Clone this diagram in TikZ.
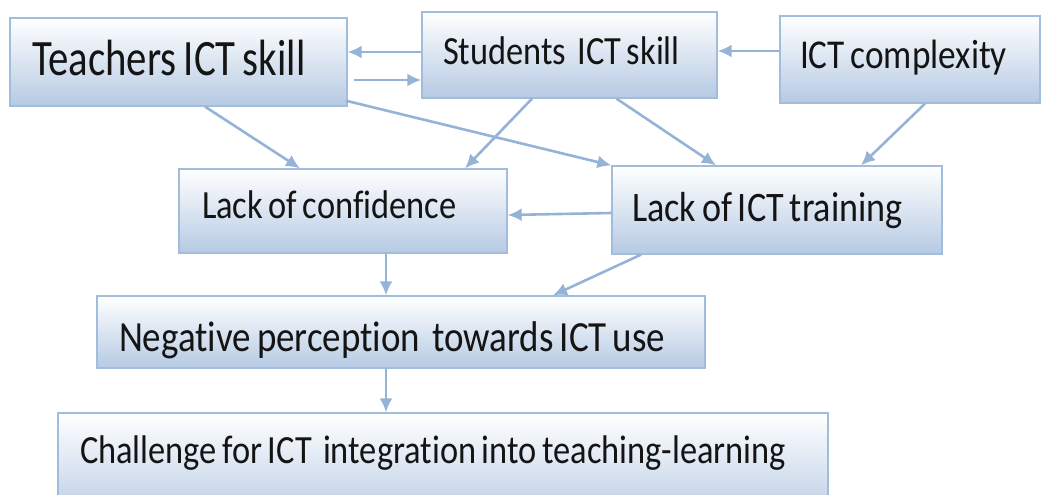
\documentclass[tikz,border=0pt]{standalone}
\usepackage{fontspec}
\setmainfont{Carlito}
\newfontfamily\boxfont[FakeStretch=0.86,Ligatures=NoCommon]{Carlito}
\newfontfamily\bigboxfont[FakeStretch=0.8,Ligatures=NoCommon]{Carlito}
\usetikzlibrary{arrows.meta}
\definecolor{boxline}{HTML}{A2BCDC}
\definecolor{boxfill}{HTML}{B6CAE3}
\definecolor{linkblue}{HTML}{95B3D7}
\definecolor{inkdark}{HTML}{141414}
\tikzset{
  factor/.style={rectangle, draw=boxline, line width=1.3pt, top color=white,
    bottom color=boxfill, inner ysep=0pt, text=inkdark},
  link/.style={draw=linkblue, line width=2.6pt,
    -{Latex[length=14pt,width=13pt]}}
}
% font size with narrow word spaces
\newcommand{\fs}[2][\boxfont]{#1\fontsize{#2}{#2}\selectfont
  \fontdimen2\font=0.14em\fontdimen3\font=0pt\fontdimen4\font=0pt}
\newcommand{\lbox}[2]{\makebox[#1][l]{#2}}

\begin{document}
\begin{tikzpicture}[x=1pt,y=-1pt]
  \useasboundingbox (0,0) rectangle (1047,495);
  \clip (0,0) rectangle (1047,495);

  % top row
  \node(teach)[factor, inner xsep=22pt, minimum height=88pt,
    text height=40pt, text depth=12pt, font={\fs[\bigboxfont]{51}}] at (178.5,62)
    {\lbox{293pt}{Teachers ICT skill}};
  \node(stud)[factor, inner xsep=21pt, minimum height=86pt,
    text height=30pt, text depth=12pt, font=\fs{40}] at (569.5,55)
    {\lbox{253pt}{Students\ \ ICT skill}};
  \node(cplx)[factor, inner xsep=20pt, minimum height=87pt,
    text height=31pt, text depth=12pt, font=\fs{41}] at (910,59.5)
    {\lbox{220pt}{ICT complexity}};

  % middle row
  \node(conf)[factor, inner xsep=23pt, minimum height=84pt,
    text height=26pt, text depth=12pt, font=\fs{40}] at (343,211)
    {\lbox{282pt}{Lack of confidence}};
  \node(train)[factor, inner xsep=20pt, minimum height=88pt,
    text height=34pt, text depth=12pt, font=\fs{42}] at (777,210)
    {\lbox{290pt}{Lack of ICT training}};

  % bottom rows
  \node(neg)[factor, inner xsep=22pt, minimum height=72pt,
    text height=50pt, text depth=12pt, font=\fs{43}] at (401,332)
    {\lbox{564pt}{Negative perception\ \ towards ICT use}};
  \node(chal)[factor, inner xsep=22pt, minimum height=110pt,
    text height=14pt, text depth=24pt, font=\fs{40}] at (443,468)
    {\lbox{726pt}{Challenge for ICT\ \ integration into teaching-learning}};

  % links
  \draw[link] ([yshift=3pt]stud.west) -- ([yshift=10pt]teach.east);
  \draw[link] ([xshift=6pt,yshift=-18pt]teach.east) -- ([yshift=-25pt]stud.west);
  \draw[link] ([yshift=8.5pt]cplx.west) -- ([yshift=4pt]stud.east);

  \draw[link] ([xshift=26.5pt]teach.south) -- ([xshift=-43pt]conf.north);
  \draw[link] ([xshift=-2pt,yshift=6pt]teach.south east) -- (train.north west);
  \draw[link] ([xshift=-37.5pt]stud.south) -- ([xshift=122pt]conf.north);
  \draw[link] ([xshift=47pt]stud.south) -- ([xshift=-61pt]train.north);
  \draw[link] ([xshift=15pt]cplx.south) -- ([xshift=84pt]train.north);

  \draw[link] ([yshift=-3pt]train.west) -- ([yshift=-4pt]conf.east);
  \draw[link] ([xshift=43pt]conf.south) -- ([xshift=-15pt]neg.north);
  \draw[link] ([xshift=-136pt]train.south) -- ([xshift=152pt]neg.north);
  \draw[link] ([xshift=-15pt]neg.south) -- ([xshift=-57pt]chal.north);
\end{tikzpicture}
\end{document}
